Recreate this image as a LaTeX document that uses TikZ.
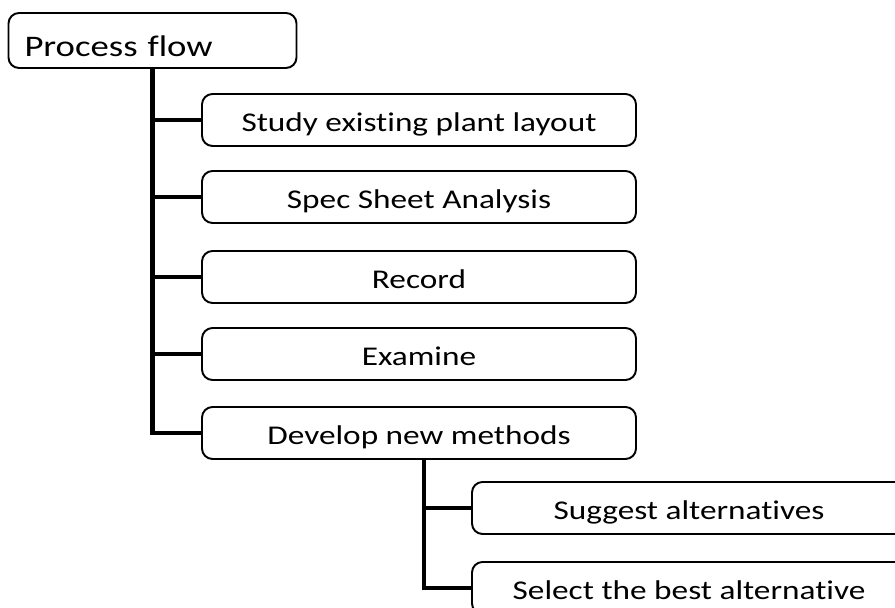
\documentclass[tikz,border=0pt]{standalone}
\usepackage{fontspec}
\setmainfont{Carlito}[Ligatures=NoCommon]
\newfontfamily\flowfont{Carlito}[Ligatures=NoCommon, FakeStretch=1.23]
\usepackage{tikz}
\usetikzlibrary{positioning,calc}

\begin{document}
\begin{tikzpicture}[
    link/.style={line width=2.8pt, black},
    root/.style={
        rectangle, rounded corners=6pt, draw=black, line width=1.1pt,
        text width=5.12cm, inner xsep=0.32cm, minimum height=1.1cm,
        text height=0.72cm, text depth=0.06cm,
        align=left, font=\flowfont\fontsize{17}{20}\selectfont
    },
    task/.style={
        rectangle, rounded corners=6pt, draw=black, line width=1.1pt,
        minimum width=8.68cm, minimum height=1.04cm, align=center,
        text height=0.55cm, text depth=0.08cm,
        font=\flowfont\fontsize{15.4}{18}\selectfont
    }
]

% ---------------- Page frame ----------------
\clip (0,0) rectangle (17.9,12.16);
\fill[white] (0,0) rectangle (17.9,12.16);

% ---------------- Main level ----------------
\node[root] (pflow)   at (3.05,11.35) {Process flow};
\node[task] (study)   at (8.38,9.76)  {Study existing plant layout};
\node[task] (spec)    at (8.38,8.22)  {Spec Sheet Analysis};
\node[task] (record)  at (8.38,6.62)  {Record};
\node[task] (examine) at (8.38,5.08)  {Examine};
\node[task] (develop) at (8.38,3.50)  {Develop new methods};

\draw[link] (pflow.south) |- (study.west);
\draw[link] (pflow.south) |- (spec.west);
\draw[link] (pflow.south) |- (record.west);
\draw[link] (pflow.south) |- (examine.west);
\draw[link] (pflow.south) |- (develop.west);

% ---------------- Sub level ----------------
\node[task] (suggest) at (13.78,2.00) {Suggest alternatives};
\node[task] (select)  at (13.78,0.40) {Select the best alternative};

\draw[link] ([xshift=0.1cm]develop.south) |- (suggest.west);
\draw[link] ([xshift=0.1cm]develop.south) |- (select.west);

\end{tikzpicture}
\end{document}
